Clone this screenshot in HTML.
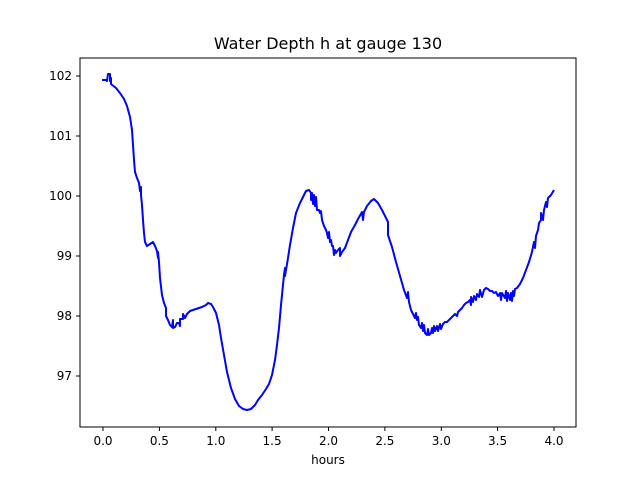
<!DOCTYPE html>
<html><head><style>body{margin:0;background:#fff;}svg{display:block;font-family:"DejaVu Sans","Liberation Sans",sans-serif;}</style></head><body>
<svg width="640" height="480" viewBox="0 0 640 480">
<rect width="640" height="480" fill="#fff"/>
<text x="328" y="49" font-size="16" text-anchor="middle">Water Depth h at gauge 130</text>
<polyline fill="none" stroke="#0000ff" stroke-width="2" stroke-linejoin="round" points="102,80 106,80 107,81 108,74 110,74 110,81 111,78 111,84 116,88 120,93 124,99 127,106 130,117 132,130 133,145 134,160 135,172 137,178 139,183 140,191 141,187 141,195 142,205 143,220 144,233 145,242 147,246 150,244 153,242 155,246 157,251 158,258 158,252 159,262 160,278 162,295 164,303 166,308 166,316 168,320 170,325 172,327 173,320 173,328 175,327 177,323 179,323 180,326 180,319 183,319 183,314 185,318 187,314 190,311 196,309 202,307 206,305 208,303 211,304 213,307 216,313 219,325 221,338 224,355 227,372 231,388 235,399 239,406 243,409 247,410 251,409 255,405 258,400 262,395 266,389 269,384 272,375 275,360 277,345 279,328 281,305 283,285 284,275 285,268 285,276 286,270 288,258 290,245 293,228 296,213 300,203 303,197 306,191 309,190 311,193 311,200 312,193 313,204 314,195 315,206 316,197 317,210 319,210 320,213 321,211 322,220 324,226 326,230 327,233 328,238 329,232 330,242 331,240 332,246 333,246 334,255 335,250 336,253 338,250 340,248 340,256 342,252 345,248 348,240 351,232 355,225 358,219 362,212 363,220 364,212 367,206 371,201 374,199 378,203 382,210 386,218 388,222 388,235 392,247 396,262 400,276 404,290 407,298 408,292 409,302 411,310 413,314 415,318 416,313 417,320 418,317 419,325 421,328 422,323 423,331 424,325 425,333 427,335 428,329 429,335 431,333 432,328 433,333 434,326 435,331 437,326 438,331 440,324 441,329 443,324 445,322 447,322 449,320 451,318 453,316 455,314 457,316 458,312 460,310 462,308 464,305 466,303 468,302 470,300 471,305 471,297 473,302 474,296 476,300 477,294 479,297 480,290 482,297 484,290 486,288 488,289 490,291 492,291 494,293 496,292 498,296 500,293 501,300 502,293 505,298 506,291 507,301 508,293 510,300 511,293 512,301 513,291 514,296 515,289 517,288 520,284 523,278 526,270 529,262 532,252 534,242 535,248 536,236 538,230 539,223 541,220 541,213 543,220 544,210 545,206 546,202 547,207 548,198 551,195 554,190"/>
<rect x="80" y="58" width="496" height="369" fill="none" stroke="#000" stroke-width="1"/>
<g stroke="#000" stroke-width="1">
<line x1="103" y1="427" x2="103" y2="431"/><line x1="159.4" y1="427" x2="159.4" y2="431"/><line x1="215.8" y1="427" x2="215.8" y2="431"/><line x1="272.1" y1="427" x2="272.1" y2="431"/><line x1="328.5" y1="427" x2="328.5" y2="431"/><line x1="384.9" y1="427" x2="384.9" y2="431"/><line x1="441.3" y1="427" x2="441.3" y2="431"/><line x1="497.6" y1="427" x2="497.6" y2="431"/><line x1="554" y1="427" x2="554" y2="431"/>
<line x1="76" y1="76" x2="80" y2="76"/><line x1="76" y1="136" x2="80" y2="136"/><line x1="76" y1="196" x2="80" y2="196"/><line x1="76" y1="256" x2="80" y2="256"/><line x1="76" y1="316" x2="80" y2="316"/><line x1="76" y1="376" x2="80" y2="376"/>
</g>
<g font-size="12" text-anchor="middle">
<text x="103" y="445">0.0</text><text x="159.4" y="445">0.5</text><text x="215.8" y="445">1.0</text><text x="272.1" y="445">1.5</text><text x="328.5" y="445">2.0</text><text x="384.9" y="445">2.5</text><text x="441.3" y="445">3.0</text><text x="497.6" y="445">3.5</text><text x="554" y="445">4.0</text>
<text x="328" y="464">hours</text>
</g>
<g font-size="12" text-anchor="end">
<text x="72" y="80">102</text><text x="72" y="140">101</text><text x="72" y="200">100</text><text x="72" y="260">99</text><text x="72" y="320">98</text><text x="72" y="380">97</text>
</g>
</svg>
</body></html>
